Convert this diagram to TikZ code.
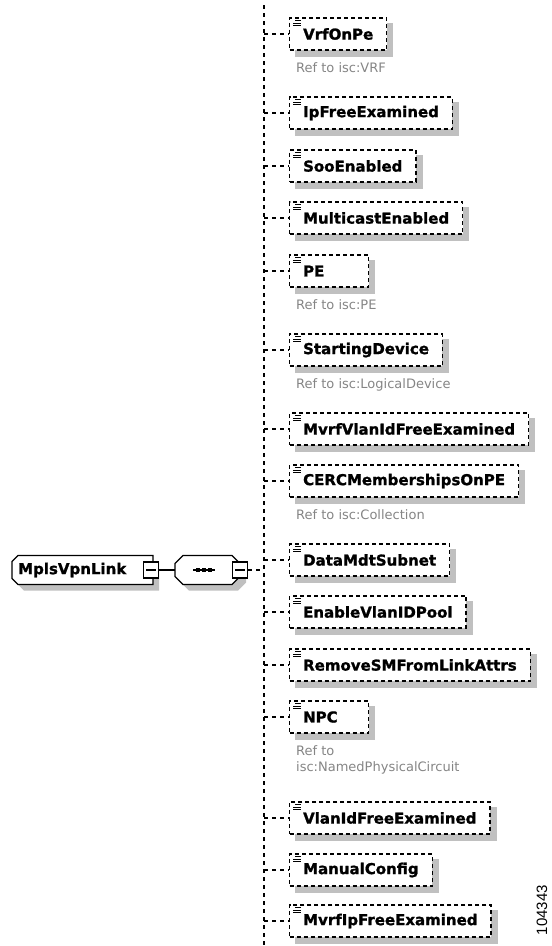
\documentclass[tikz,border=0pt]{standalone}
\usepackage{fontspec}
\setmainfont{DejaVu Sans}[BoldFeatures={FakeBold=1.2}]
\newfontfamily\numfont{Liberation Sans}
\usetikzlibrary{backgrounds}
\definecolor{shade}{HTML}{C0C0C0}
\definecolor{refgray}{HTML}{858585}
\tikzset{
  elem/.style={draw, line width=1.3pt, dash pattern=on 4pt off 3pt, fill=white,
    minimum height=32pt, inner xsep=13.5pt, inner ysep=0pt, anchor=west,
    font=\fontsize{15}{18}\selectfont\bfseries},
  rootnode/.style={anchor=west, inner xsep=6pt, inner ysep=0pt, minimum height=29pt,
    font=\fontsize{15}{18}\selectfont\bfseries},
  shadowfill/.style={fill=shade, draw=none},
  outline/.style={draw, line width=1.1pt, fill=white},
  conn/.style={line width=1.1pt, dash pattern=on 4pt off 4pt},
  solidline/.style={line width=1.1pt},
  reftext/.style={anchor=base west, inner sep=0pt, text=refgray, font=\fontsize{13}{16}\selectfont},
  icon/.style={line width=0.8pt},
  btn/.style={draw, line width=1.1pt, fill=white, minimum width=15pt, minimum height=16pt, inner sep=0pt},
}
\newcommand\elemnode[3]{%
  \node[elem] (#1) at (289,#2) {#3};
  \begin{scope}[on background layer]
    \fill[shadowfill] ([shift={(6,6)}]#1.north west) rectangle ([shift={(6,6)}]#1.south east);
  \end{scope}
  \draw[icon] ([shift={(6,3.5)}]#1.north west) -- ++(6,0);
  \draw[icon] ([shift={(4,6)}]#1.north west) -- ++(8,0);
  \draw[icon] ([shift={(4,8.5)}]#1.north west) -- ++(8,0);
  \draw[conn] (vtop |- #1.west) -- (#1.west);
}
\begin{document}
\begin{tikzpicture}[x=1pt, y=-1pt]
\useasboundingbox (0,0) rectangle (552,946);
\coordinate (vtop) at (264,5);
\coordinate (vbot) at (264,946);
\draw[conn] (vtop) -- (vbot);

% root element
\node[rootnode] (root) at (12,570) {\makebox[129pt][l]{MplsVpnLink}};
\begin{scope}[on background layer]
  \fill[shadowfill] (24,561.5) -- (159,561.5) -- (159,590.5) -- (24,590.5) -- (18,584.5) -- (18,567.5) -- cycle;
  \path[outline] (18,555.5) -- (153,555.5) -- (153,584.5) -- (18,584.5) -- (12,578.5) -- (12,561.5) -- cycle;
\end{scope}
\node[btn] (rootbtn) at (151,570) {};
\draw[solidline] ([xshift=3.5pt]rootbtn.west) -- ([xshift=-3.5pt]rootbtn.east);

% sequence compositor
\node[minimum width=65pt, minimum height=29pt, inner sep=0pt] (seq) at (207.5,570) {};
\begin{scope}[on background layer]
  \fill[shadowfill] (189,561.5) -- (238,561.5) -- (246,569.5) -- (246,582.5) -- (238,590.5) -- (189,590.5) -- (181,582.5) -- (181,569.5) -- cycle;
  \path[outline] (183,555.5) -- (232,555.5) -- (240,563.5) -- (240,576.5) -- (232,584.5) -- (183,584.5) -- (175,576.5) -- (175,563.5) -- cycle;
\end{scope}
\draw[solidline] (193,570) -- (215,570);
\fill (196.2,568.2) rectangle ++(3.6,3.6) (202.2,568.2) rectangle ++(3.6,3.6) (208.2,568.2) rectangle ++(3.6,3.6);
\node[btn] (seqbtn) at (240,570) {};
\draw[solidline] ([xshift=3.5pt]seqbtn.west) -- ([xshift=-3.5pt]seqbtn.east);

\draw[solidline] (rootbtn.east) -- (seq.west);
\draw[conn] (seqbtn.east) -- (seqbtn.east -| vtop);

% children
\elemnode{vrf}{34}{VrfOnPe}
\node[reftext] (vrfref) at ([shift={(7,38)}]vrf.west) {Ref to isc:VRF};
\elemnode{ipfree}{113}{IpFreeExamined}
\elemnode{soo}{166}{SooEnabled}
\elemnode{mcast}{218}{MulticastEnabled}
\elemnode{pe}{271}{\makebox[52pt][l]{PE}}
\node[reftext] (peref) at ([shift={(7,38)}]pe.west) {Ref to isc:PE};
\elemnode{start}{350}{StartingDevice}
\node[reftext] (startref) at ([shift={(7,38)}]start.west) {Ref to isc:LogicalDevice};
\elemnode{mvrfvlan}{429}{MvrfVlanIdFreeExamined}
\elemnode{cerc}{481}{CERCMembershipsOnPE}
\node[reftext] (cercref) at ([shift={(7,38)}]cerc.west) {Ref to isc:Collection};
\elemnode{datamdt}{560}{DataMdtSubnet}
\elemnode{enablevlan}{612}{EnableVlanIDPool}
\elemnode{removesm}{665}{RemoveSMFromLinkAttrs}
\elemnode{npc}{717}{\makebox[52pt][l]{NPC}}
\node[reftext] (npcref) at ([shift={(7,38)}]npc.west) {Ref to};
\node[reftext] (npcref2) at ([shift={(7,54)}]npc.west) {isc:NamedPhysicalCircuit};
\elemnode{vlanid}{818}{VlanIdFreeExamined}
\elemnode{manual}{870}{ManualConfig}
\elemnode{mvrfip}{921}{MvrfIpFreeExamined}

\node[rotate=90, inner sep=0pt, font=\numfont\fontsize{15}{18}\selectfont] (figno) at (542,910) {104343};
\end{tikzpicture}
\end{document}
